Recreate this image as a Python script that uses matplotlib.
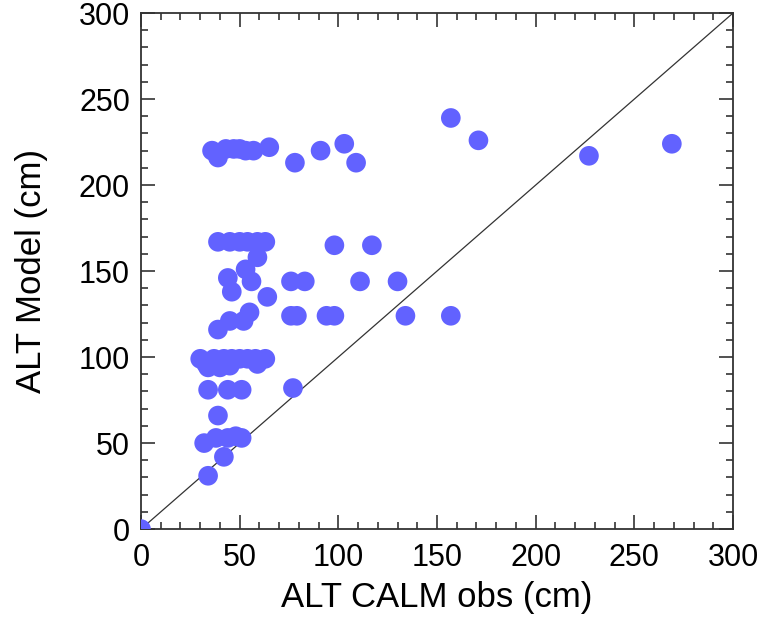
import numpy as np
import matplotlib.pyplot as plt
from matplotlib.ticker import MultipleLocator

# ALT observed at CALM sites vs. modelled ALT (cm)
calm_obs = [0, 34, 42,
            32, 38, 44, 48, 51,
            39,
            34, 44, 51, 77,
            30, 33, 37, 42, 46, 50, 54, 58, 63, 34, 40, 45, 59,
            39, 45, 52, 55,
            76, 79, 94, 98, 134, 157,
            64, 46, 44, 56, 53, 59,
            76, 83, 111, 130,
            39, 45, 50, 54, 59, 63, 98, 117,
            36, 39, 43, 47, 50, 53, 57, 65, 78, 91, 103, 109,
            157, 171, 227, 269]
alt_model = [0, 31, 42,
             50, 53, 53, 54, 53,
             66,
             81, 81, 81, 82,
             99, 96, 99, 99, 99, 99, 99, 99, 99, 94, 94, 95, 96,
             116, 121, 121, 126,
             124, 124, 124, 124, 124, 124,
             135, 138, 146, 144, 151, 158,
             144, 144, 144, 144,
             167, 167, 167, 167, 167, 167, 165, 165,
             220, 216, 221, 221, 221, 220, 220, 222, 213, 220, 224, 213,
             239, 226, 217, 224]

plt.rcParams['font.family'] = 'Liberation Sans'

fig = plt.figure(figsize=(7.63, 6.21), dpi=100)
ax = fig.add_axes([0.1848, 0.148, 0.7759, 0.831])

ax.scatter(calm_obs, alt_model, s=200, color='#6262FF', edgecolors='none', zorder=3, clip_on=True)
ax.plot([0, 300], [0, 300], color='#333333', lw=0.9, zorder=2)

ax.set_xlim(0, 300)
ax.set_ylim(0, 300)
for a in (ax.xaxis, ax.yaxis):
    a.set_major_locator(MultipleLocator(50))
    a.set_minor_locator(MultipleLocator(10))
ax.tick_params(which='both', direction='in', top=True, right=True,
               labelsize=22, width=1.2, color='#333333')
ax.tick_params(which='major', length=10)
ax.tick_params(axis='x', which='major', pad=10)
ax.tick_params(axis='y', which='major', pad=8)
ax.tick_params(which='minor', length=5)
for s in ax.spines.values():
    s.set_linewidth(1.3)
    s.set_color('#333333')

ax.set_xlabel('ALT CALM obs (cm)', fontsize=25, labelpad=6)
ax.set_ylabel('ALT Model (cm)', fontsize=25, labelpad=22)

plt.savefig('out.png', dpi=100)
